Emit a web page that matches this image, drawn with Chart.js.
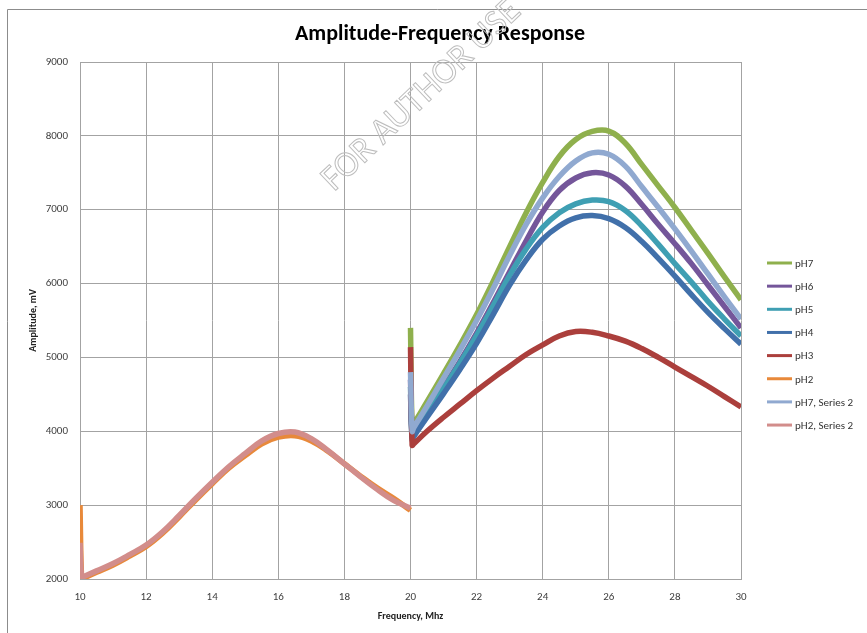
<!DOCTYPE html>
<html>
<head>
<meta charset="utf-8">
<script src="https://cdn.jsdelivr.net/npm/chart.js@4.4.1/dist/chart.umd.min.js"></script>
<style>
  body { margin: 0; background: #fff; }
  #wrap { width: 867px; height: 633px; }
</style>
</head>
<body>
<div id="wrap"><canvas id="chart"></canvas></div>
<script>
const FONT = 'Carlito, Lato, "Liberation Sans", sans-serif';
const TITLE = 'Amplitude-Frequency Response';

// frequency grids, MHz
const freqLow = [10, 10.05, 10.1, 10.5, 11, 11.5, 12, 12.5, 13, 13.5, 14, 14.5, 15, 15.5, 16, 16.5, 17, 17.5, 18, 18.5, 19, 19.5, 20];
const freqHigh = [20, 20.05, 20.1, 20.5, 21, 21.5, 22, 22.5, 23, 23.5, 24, 24.5, 25, 25.5, 26, 26.5, 27, 27.5, 28, 28.5, 29, 29.5, 30];

// amplitude, mV
const pH7 = [5400, 4050, 4100, 4400, 4780, 5170, 5580, 6030, 6500, 6960, 7370, 7720, 7950, 8060, 8065, 7900, 7610, 7320, 7030, 6720, 6410, 6090, 5780];
const pH6 = [4700, 3950, 4000, 4260, 4600, 4950, 5330, 5740, 6160, 6580, 6970, 7260, 7430, 7500, 7470, 7320, 7070, 6800, 6540, 6270, 5980, 5690, 5400];
const pH5 = [4600, 3920, 3970, 4240, 4580, 4930, 5300, 5700, 6110, 6470, 6760, 6960, 7080, 7130, 7110, 6990, 6780, 6530, 6270, 6020, 5760, 5520, 5290];
const pH4 = [4500, 3880, 3930, 4190, 4510, 4840, 5190, 5580, 5980, 6320, 6600, 6780, 6890, 6920, 6880, 6760, 6570, 6340, 6100, 5850, 5610, 5390, 5180];
const pH3 = [5140, 3810, 3830, 4000, 4190, 4370, 4550, 4720, 4880, 5040, 5170, 5290, 5350, 5340, 5290, 5220, 5120, 5000, 4870, 4740, 4610, 4470, 4330];
const pH2 = [3000, 2000, 2010, 2090, 2190, 2310, 2440, 2620, 2840, 3070, 3290, 3500, 3670, 3830, 3920, 3940, 3870, 3730, 3560, 3390, 3230, 3090, 2930];
const pH7s2 = [4800, 4000, 4050, 4340, 4720, 5100, 5500, 5930, 6380, 6800, 7160, 7450, 7660, 7770, 7750, 7590, 7310, 7030, 6740, 6440, 6130, 5820, 5520];
const pH2s2 = [2490, 2020, 2030, 2110, 2210, 2330, 2460, 2640, 2860, 3090, 3310, 3520, 3700, 3870, 3970, 3990, 3900, 3740, 3560, 3380, 3210, 3060, 2960];

const seriesNames = ['pH7', 'pH6', 'pH5', 'pH4', 'pH3', 'pH2', 'pH7, Series 2', 'pH2, Series 2'];
const seriesValues = [pH7, pH6, pH5, pH4, pH3, pH2, pH7s2, pH2s2];
const seriesFreq = [freqHigh, freqHigh, freqHigh, freqHigh, freqHigh, freqLow, freqHigh, freqLow];
const seriesColors = ['#8fb04d', '#74569a', '#3f9fb3', '#4170aa', '#ab3f3c', '#e8893a', '#90a9d0', '#d28d8b'];

const datasets = seriesNames.map((name, i) => ({
  label: name,
  data: seriesFreq[i].map((f, j) => ({ x: f, y: seriesValues[i][j] })),
  borderColor: seriesColors[i],
  backgroundColor: seriesColors[i],
  // later series sit on top
  order: seriesNames.length - i
}));

// frame lines, title, watermark and the legend column
const extras = {
  id: 'extras',
  afterDraw(chart) {
    const ctx = chart.ctx;
    ctx.save();
    ctx.strokeStyle = '#8c8c8c';
    ctx.lineWidth = 1;
    ctx.beginPath();
    ctx.moveTo(7.5, 633);
    ctx.lineTo(7.5, 9.5);
    ctx.lineTo(867, 9.5);
    ctx.stroke();

    ctx.fillStyle = '#000';
    ctx.font = 'bold 22px ' + FONT;
    ctx.textAlign = 'center';
    ctx.textBaseline = 'middle';
    ctx.fillText(TITLE, 440, 34);

    ctx.font = '11px ' + FONT;
    ctx.textAlign = 'left';
    chart.data.datasets.forEach((ds, i) => {
      const y = 263 + i * 23.15;
      ctx.strokeStyle = ds.borderColor;
      ctx.lineWidth = 3;
      ctx.beginPath();
      ctx.moveTo(767, y);
      ctx.lineTo(792, y);
      ctx.stroke();
      ctx.fillStyle = '#333';
      ctx.fillText(ds.label, 795, y + 1);
    });

    ctx.translate(334, 192);
    ctx.rotate(-0.76);
    ctx.font = '36px ' + FONT;
    ctx.textAlign = 'left';
    ctx.textBaseline = 'alphabetic';
    ctx.strokeStyle = '#bdbdbd';
    ctx.lineWidth = 1;
    ctx.strokeText('FOR AUTHOR USE', 0, 0);
    ctx.restore();
  }
};

new Chart(document.getElementById('chart'), {
  type: 'line',
  data: { datasets: datasets },
  plugins: [extras],
  options: {
    responsive: true,
    maintainAspectRatio: false,
    animation: false,
    layout: { padding: { left: 7, top: 62, right: 126, bottom: 0 } },
    elements: {
      point: { radius: 0 },
      line: { borderWidth: 5.5, tension: 0.4 }
    },
    plugins: {
      legend: { display: false },
      tooltip: { enabled: false },
      title: { display: false }
    },
    scales: {
      x: {
        type: 'linear',
        min: 10,
        max: 30,
        ticks: { stepSize: 2, padding: 12, color: '#404040', font: { family: FONT, size: 11 }, callback: v => String(v) },
        grid: { color: '#a3a3a3', drawTicks: false },
        border: { color: '#a3a3a3' },
        title: { display: true, text: 'Frequency, Mhz', color: '#222', font: { family: FONT, size: 10, weight: 'bold' }, padding: { top: 0, bottom: 11 } },
        afterFit: s => { s.height = 54; }
      },
      y: {
        min: 2000,
        max: 9000,
        ticks: { stepSize: 1000, padding: 12, color: '#404040', font: { family: FONT, size: 11 }, callback: v => String(v) },
        grid: { color: '#a3a3a3', drawTicks: false },
        border: { color: '#a3a3a3' },
        title: { display: true, text: 'Amplitude, mV', color: '#222', font: { family: FONT, size: 10, weight: 'bold' }, padding: { top: 20, bottom: 0 } },
        afterFit: s => { s.width = 73; }
      }
    }
  }
});
</script>
</body>
</html>
